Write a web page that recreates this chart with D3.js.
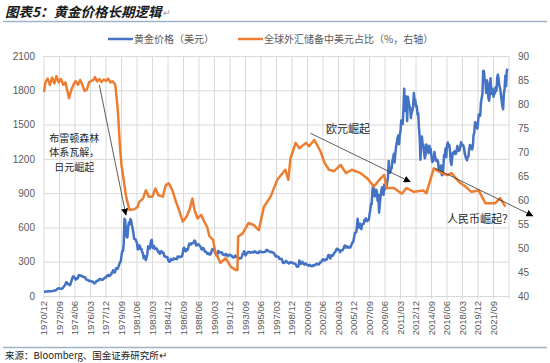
<!DOCTYPE html>
<html>
<head>
<meta charset="utf-8">
<script src="https://cdn.jsdelivr.net/npm/d3@7"></script>
<style>
  body { margin: 0; background: #fff; }
  text { font-family: "Noto Sans CJK SC", "Noto Sans", sans-serif; }
</style>
</head>
<body>
<div id="chart"></div>
<script>
// 1: DATA
// x axis tick labels (every 21 months)
const tickLabels = ["1970/12", "1972/09", "1974/06", "1976/03", "1977/12", "1979/09", "1981/06", "1983/03",
    "1984/12", "1986/09", "1988/06", "1990/03", "1991/12", "1993/09", "1995/06", "1997/03", "1998/12",
    "2000/09", "2002/06", "2004/03", "2005/12", "2007/09", "2009/06", "2011/03", "2012/12", "2014/09",
    "2016/06", "2018/03", "2019/12", "2021/09"];
const leftTicks = [0, 300, 600, 900, 1200, 1500, 1800, 2100];
const rightTicks = [40, 45, 50, 55, 60, 65, 70, 75, 80, 85, 90];

// gold price, USD, monthly from 1970/12
const goldStart = "1970/12";
const goldPrice = [37.4,
    37.9, 38.7, 38.9, 39.0, 40.5, 40.1, 41.0, 42.7, 42.0, 42.5, 42.9, 43.5,
    45.8, 48.3, 48.3, 49.0, 54.6, 62.1, 65.7, 67.0, 65.5, 64.9, 62.9, 63.9,
    65.1, 74.2, 84.4, 90.5, 102, 120, 120, 106, 103, 100, 94, 106,
    129, 150, 168, 172, 163, 154, 143, 154, 151, 158, 181, 183,
    176, 179, 178, 170, 167, 164, 166, 161, 144, 143, 142, 139,
    131, 131, 132, 128, 126, 126, 118, 110, 114, 117, 131, 134,
    133, 137, 148, 149, 147, 141, 144, 145, 150, 159, 162, 161,
    173, 179, 185, 175, 177, 183, 188, 206, 212, 227, 206, 208,
    227, 245, 242, 239, 257, 280, 295, 301, 355, 392, 392, 456,
    675, 665, 553, 517, 513, 600, 644, 627, 673, 661, 623, 594,
    557, 500, 499, 495, 480, 460, 409, 410, 443, 437, 413, 410,
    384, 374, 330, 350, 334, 314, 339, 364, 435, 422, 414, 444,
    481, 491, 420, 432, 438, 412, 422, 416, 412, 393, 382, 388,
    370, 386, 394, 381, 377, 378, 347, 348, 341, 340, 341, 320,
    303, 299, 304, 325, 316, 317, 317, 330, 323, 326, 325, 322,
    345, 339, 346, 340, 342, 343, 348, 376, 418, 423, 398, 391,
    408, 401, 409, 438, 460, 450, 450, 461, 460, 465, 467, 486,
    477, 442, 444, 452, 451, 451, 437, 432, 413, 406, 420, 419,
    404, 388, 390, 384, 371, 367, 375, 365, 362, 367, 394, 409,
    410, 417, 393, 374, 369, 352, 362, 395, 389, 380, 381, 378,
    383, 364, 363, 358, 357, 367, 368, 356, 348, 358, 360, 361,
    354, 354, 345, 338, 337, 341, 353, 343, 345, 344, 335, 334,
    329, 330, 330, 342, 367, 371, 392, 378, 355, 364, 374, 383,
    387, 382, 384, 378, 381, 385, 385, 380, 391, 389, 384, 379,
    379, 376, 382, 391, 385, 387, 386, 383, 383, 383, 386, 387,
    400, 405, 396, 393, 392, 385, 383, 387, 383, 381, 378, 369,
    355, 347, 352, 344, 344, 341, 324, 324, 323, 325, 306, 289,
    289, 297, 296, 308, 299, 292, 293, 284, 289, 296, 294, 291,
    287, 288, 286, 282, 277, 262, 256, 257, 265, 311, 293, 283,
    284, 300, 286, 280, 275, 286, 282, 275, 273, 270, 266, 272,
    266, 262, 263, 261, 272, 270, 268, 273, 283, 283, 276, 275,
    282, 296, 294, 302, 314, 322, 314, 310, 319, 317, 319, 333,
    356, 359, 341, 328, 355, 356, 351, 360, 379, 379, 389, 407,
    414, 405, 406, 404, 383, 392, 398, 400, 405, 420, 439, 442,
    424, 424, 434, 429, 422, 430, 424, 438, 456, 470, 476, 510,
    549, 555, 557, 610, 676, 596, 633, 632, 598, 585, 627, 629,
    631, 664, 655, 679, 667, 655, 665, 665, 712, 754, 806, 803,
    924, 971, 934, 871, 885, 930, 918, 833, 884, 730, 815, 870,
    920, 952, 917, 884, 975, 935, 949, 956, 996, 1040, 1182, 1088,
    1078, 1109, 1116, 1179, 1207, 1244, 1169, 1246, 1307, 1346, 1386, 1405,
    1327, 1411, 1439, 1536, 1536, 1505, 1628, 1813, 1620, 1722, 1746, 1531,
    1744, 1697, 1662, 1651, 1558, 1598, 1622, 1648, 1776, 1719, 1714, 1657,
    1664, 1588, 1598, 1469, 1394, 1192, 1314, 1395, 1326, 1324, 1253, 1205,
    1240, 1326, 1292, 1289, 1250, 1315, 1285, 1286, 1217, 1173, 1182, 1199,
    1260, 1213, 1187, 1180, 1191, 1172, 1095, 1135, 1115, 1142, 1057, 1061,
    1118, 1234, 1232, 1290, 1215, 1321, 1343, 1309, 1322, 1273, 1174, 1146,
    1211, 1254, 1245, 1266, 1266, 1242, 1269, 1312, 1283, 1270, 1275, 1303,
    1345, 1318, 1324, 1316, 1300, 1250, 1224, 1203, 1187, 1215, 1222, 1279,
    1321, 1316, 1292, 1283, 1305, 1409, 1427, 1520, 1485, 1511, 1464, 1515,
    1589, 1586, 1577, 1694, 1730, 1771, 1971, 1968, 1886, 1879, 1776, 1888,
    1863, 1734, 1708, 1769, 1905, 1770, 1814, 1814, 1743, 1784, 1774, 1829,
    1796, 1909, 1937, 1896, 1838, 1817, 1766, 1711, 1661, 1634, 1768, 1812,
    1928, 1836, 1969, 1990];

// USD share of global FX reserves (%), right axis
const usdShareDates = ["1970/12", "1971/02", "1971/05", "1971/08", "1971/11", "1972/02", "1972/05", "1972/08",
    "1972/11", "1973/02", "1973/05", "1973/08", "1973/10", "1974/01", "1974/04", "1974/07", "1974/10",
    "1975/01", "1975/04", "1975/07", "1975/10", "1976/01", "1976/04", "1976/07", "1976/09", "1976/12",
    "1977/03", "1977/06", "1977/09", "1977/12", "1978/03", "1978/06", "1978/09", "1978/12", "1979/01",
    "1979/04", "1979/07", "1979/09", "1979/12", "1980/03", "1980/05", "1980/08", "1980/12", "1981/03",
    "1981/07", "1981/09", "1982/02", "1982/06", "1982/10", "1983/03", "1983/07", "1983/11", "1984/05",
    "1984/09", "1985/01", "1985/06", "1985/10", "1986/03", "1986/08", "1987/01", "1987/05", "1987/09",
    "1987/12", "1988/04", "1988/09", "1989/01", "1989/05", "1989/08", "1990/01", "1990/04", "1990/11",
    "1991/06", "1992/01", "1992/08", "1992/10", "1992/11", "1993/05", "1994/01", "1994/08", "1995/03",
    "1995/10", "1996/07", "1997/04", "1998/03", "1998/07", "1998/10", "1999/05", "1999/10", "2000/07",
    "2000/11", "2001/06", "2001/10", "2002/03", "2002/08", "2003/02", "2003/09", "2004/06", "2005/01",
    "2005/09", "2006/09", "2007/06", "2008/03", "2008/12", "2009/05", "2009/08", "2010/06", "2011/05",
    "2011/11", "2012/09", "2013/10", "2014/02", "2014/12", "2015/07", "2016/06", "2016/12", "2017/10",
    "2018/07", "2019/03", "2020/01", "2020/10", "2021/11", "2022/06", "2023/01"];
const usdShare = [82.5, 84.6, 85.3, 84.0, 85.5, 84.3, 85.8, 84.5,
    85.2, 84.0, 84.5, 82.5, 81.2, 83.0, 84.0, 84.8, 84.0,
    85.0, 84.0, 82.7, 83.0, 84.5, 84.8, 85.0, 85.6, 84.7,
    85.2, 84.6, 85.1, 84.8, 85.3, 84.5, 84.7, 84.2, 83.5,
    78.8, 71.0, 67.3, 64.2, 61.0, 59.6, 57.9, 58.0, 58.1,
    58.6, 59.6, 60.3, 62.0, 60.7, 60.7, 62.4, 61.0, 60.7,
    63.1, 63.5, 62.0, 60.0, 57.9, 55.5, 56.5, 57.9, 60.3,
    57.9, 56.2, 56.9, 55.5, 54.4, 52.5, 51.7, 49.2, 46.9,
    47.9, 46.1, 45.4, 45.4, 52.4, 53.0, 55.2, 54.8, 53.7,
    58.6, 60.7, 64.2, 66.3, 64.2, 68.7, 71.9, 70.8, 71.9,
    71.2, 72.5, 71.5, 70.0, 67.8, 66.3, 66.0, 67.3, 65.6,
    66.3, 65.6, 64.5, 62.8, 64.5, 65.2, 62.5, 62.5, 61.3,
    62.5, 61.7, 62.0, 61.4, 66.6, 65.9, 65.2, 65.6, 63.8,
    62.8, 61.7, 62.0, 59.3, 59.3, 60.4, 58.6];

// annotations: arrows [date, value] on the given axis
const arrows = [
    { axis: "left", from: ["1977/03", 1846], to: ["1980/03", 709] },
    { axis: "right", from: ["2001/01", 73.9], to: ["2012/04", 63.8] },
    { axis: "right", from: ["2015/02", 66.6], to: ["2026/02", 56.7] }
];

// 2: SETUP
const width = 550, height = 363;
const plot = { left: 44, right: 509, top: 56, bottom: 296 };
const parseYM = d3.timeParse("%Y/%m");

const svg = d3.select("#chart").append("svg")
    .attr("width", width)
    .attr("height", height);

const x = d3.scaleTime()
    .domain([parseYM("1970/12"), parseYM("2023/06")])
    .range([plot.left, plot.right]);
const yLeft = d3.scaleLinear().domain([0, 2100]).range([plot.bottom, plot.top]);
const yRight = d3.scaleLinear().domain([40, 90]).range([plot.bottom, plot.top]);

const goldData = goldPrice.map((v, i) => ({ date: d3.timeMonth.offset(parseYM(goldStart), i), value: v }));
const usdData = usdShare.map((v, i) => ({ date: parseYM(usdShareDates[i]), value: v }));

// 3: TITLE + RULES
svg.append("text")
    .attr("x", 5).attr("y", 17)
    .style("font-size", "13.5px").style("font-weight", "bold").style("font-style", "italic")
    .attr("fill", "#1a1a1a")
    .text("图表5：黄金价格长期逻辑");
svg.append("text")
    .attr("x", 163).attr("y", 16)
    .style("font-size", "9px").attr("fill", "#999")
    .text("↵");
svg.append("line")
    .attr("x1", 3).attr("x2", 547).attr("y1", 21.5).attr("y2", 21.5)
    .attr("stroke", "#9fb3c8").attr("stroke-width", 1.5);
svg.append("line")
    .attr("x1", 3).attr("x2", 547).attr("y1", 347.5).attr("y2", 347.5)
    .attr("stroke", "#9fb3c8").attr("stroke-width", 1.5);
svg.append("text")
    .attr("x", 5).attr("y", 359)
    .style("font-size", "9.5px").attr("fill", "#1a1a1a")
    .text("来源：Bloomberg、国金证券研究所↵");

// 4: GRID + AXES
// horizontal gridlines with left labels
svg.append("g")
    .attr("transform", `translate(${plot.left},0)`)
    .call(d3.axisLeft(yLeft).tickValues(leftTicks).tickFormat(d3.format("d"))
        .tickSize(-(plot.right - plot.left)).tickPadding(9))
    .call(g => g.select(".domain").remove())
    .call(g => g.selectAll("line").attr("stroke", "#d9d9d9"))
    .call(g => g.selectAll("text").attr("fill", "#595959").style("font-size", "10px")
        .style("font-family", "'Liberation Sans', sans-serif"));

// right labels
svg.append("g")
    .attr("transform", `translate(${plot.right},0)`)
    .call(d3.axisRight(yRight).tickValues(rightTicks).tickFormat(d3.format("d")).tickSize(0).tickPadding(9))
    .call(g => g.select(".domain").remove())
    .call(g => g.selectAll("text").attr("fill", "#595959").style("font-size", "10px")
        .style("font-family", "'Liberation Sans', sans-serif"));

// vertical gridlines, one per label plus the closing one
const gridDates = tickLabels.map(parseYM).concat([x.domain()[1]]);
svg.append("g")
    .selectAll("line")
    .data(gridDates)
    .join("line")
    .attr("x1", d => x(d)).attr("x2", d => x(d))
    .attr("y1", plot.top).attr("y2", plot.bottom + 3)
    .attr("stroke", "#d9d9d9");

// x labels (rotated)
svg.append("g")
    .selectAll("text")
    .data(tickLabels)
    .join("text")
    .attr("transform", d => `translate(${x(parseYM(d))},${plot.bottom + 5}) rotate(-90)`)
    .attr("dy", "0.35em")
    .attr("text-anchor", "end")
    .attr("fill", "#595959")
    .style("font-size", "9.5px")
    .style("font-family", "'Liberation Sans', sans-serif")
    .text(d => d);

// 5: LINES
const goldLine = d3.line().x(d => x(d.date)).y(d => yLeft(d.value));
const usdLine = d3.line().x(d => x(d.date)).y(d => yRight(d.value));

svg.append("path")
    .datum(goldData)
    .attr("d", goldLine)
    .attr("fill", "none")
    .attr("stroke", "#4472C4")
    .attr("stroke-width", 2.5)
    .attr("stroke-linejoin", "round");

svg.append("path")
    .datum(usdData)
    .attr("d", usdLine)
    .attr("fill", "none")
    .attr("stroke", "#ED7D31")
    .attr("stroke-width", 2.5)
    .attr("stroke-linejoin", "round");

// 6: LEGEND
const legend = [
    { label: "黄金价格（美元）", color: "#4472C4", x: 108 },
    { label: "全球外汇储备中美元占比（%，右轴）", color: "#ED7D31", x: 238 }
];
const lg = svg.append("g");
legend.forEach(l => {
    lg.append("line")
        .attr("x1", l.x).attr("x2", l.x + 25).attr("y1", 39).attr("y2", 39)
        .attr("stroke", l.color).attr("stroke-width", 2.5);
    lg.append("text")
        .attr("x", l.x + 26).attr("y", 43)
        .attr("fill", "#595959")
        .style("font-size", "10px")
        .text(l.label);
});

// 7: ANNOTATIONS
svg.append("defs").append("marker")
    .attr("id", "arrowhead")
    .attr("viewBox", "0 0 10 10")
    .attr("refX", 9).attr("refY", 5)
    .attr("markerWidth", 7).attr("markerHeight", 7)
    .attr("markerUnits", "userSpaceOnUse")
    .attr("orient", "auto")
    .append("path")
    .attr("d", "M0,0 L10,5 L0,10 z")
    .attr("fill", "#000");

arrows.forEach(a => {
    const y = a.axis === "left" ? yLeft : yRight;
    svg.append("line")
        .attr("x1", x(parseYM(a.from[0]))).attr("y1", y(a.from[1]))
        .attr("x2", x(parseYM(a.to[0]))).attr("y2", y(a.to[1]))
        .attr("stroke", "#333")
        .attr("stroke-width", 0.8)
        .attr("marker-end", "url(#arrowhead)");
});

const noteStyle = (t, size) => t.attr("fill", "#262626").style("font-size", size);

// three separate lines of the Bretton Woods note
["布雷顿森林", "体系瓦解，", "日元崛起"].forEach((s, i) => {
    svg.append("text")
        .attr("text-anchor", "middle")
        .attr("x", x(parseYM("1974/05")))
        .attr("y", yLeft(1350) + i * 14.5)
        .call(noteStyle, "10px")
        .text(s);
});

svg.append("text")
    .attr("x", x(parseYM("2002/10"))).attr("y", yRight(73.9))
    .call(noteStyle, "11px")
    .text("欧元崛起");

svg.append("text")
    .attr("x", x(parseYM("2016/06"))).attr("y", yRight(55.3))
    .call(noteStyle, "11px")
    .text("人民币崛起？");
</script>
</body>
</html>
